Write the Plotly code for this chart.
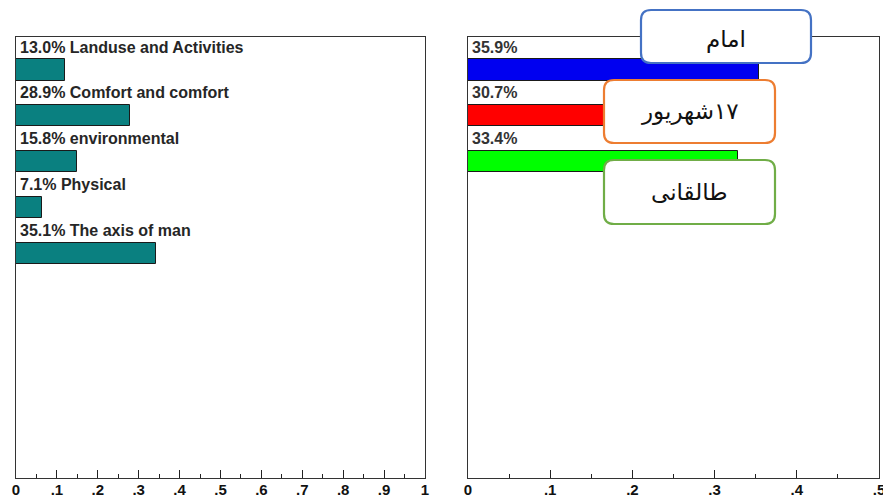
import plotly.graph_objects as go

W, H = 883, 497

# ---- data ----
left_names = ["Landuse and Activities", "Comfort and comfort", "environmental", "Physical", "The axis of man"]
left_pct = ["13.0%", "28.9%", "15.8%", "7.1%", "35.1%"]
left_vals = [0.120, 0.279, 0.149, 0.064, 0.342]

right_pct = ["35.9%", "30.7%", "33.4%"]
right_vals = [0.354, 0.302, 0.328]
right_colors = ["#0000f0", "#ff0000", "#00ff00"]
right_names = ["امام", "\u200f۱۷شهریور", "طالقانی"]
box_colors = ["#4472c4", "#ed7d31", "#70ad47"]

left_tickvals = [0, 0.1, 0.2, 0.3, 0.4, 0.5, 0.6, 0.7, 0.8, 0.9, 1.0]
left_ticktext = ["0", ".1", ".2", ".3", ".4", ".5", ".6", ".7", ".8", ".9", "1"]
right_tickvals = [0, 0.1, 0.2, 0.3, 0.4, 0.5]
right_ticktext = ["0", ".1", ".2", ".3", ".4", ".5"]

FONT = "Arial, Liberation Sans, DejaVu Sans, sans-serif"
TXT = "#262626"

fig = go.Figure()
fig.add_trace(go.Bar(
    x=left_vals, y=list(range(len(left_vals))), orientation="h", width=0.46,
    marker=dict(color="#0a8080", line=dict(color="#1a1a1a", width=1)),
    xaxis="x", yaxis="y", hoverinfo="skip", showlegend=False))
fig.add_trace(go.Bar(
    x=right_vals, y=list(range(len(right_vals))), orientation="h", width=0.46,
    marker=dict(color=right_colors, line=dict(color="#1a1a1a", width=1)),
    xaxis="x2", yaxis="y2", hoverinfo="skip", showlegend=False))

ann = []
for i, (p, n) in enumerate(zip(left_pct, left_names)):
    ann.append(dict(x=0, y=i - 0.5, xref="x", yref="y", text=f"{p} {n}", showarrow=False,
                    xanchor="left", yanchor="middle", xshift=2,
                    font=dict(family=FONT, size=16, color=TXT, weight="bold")))
for i, p in enumerate(right_pct):
    ann.append(dict(x=0, y=i - 0.5, xref="x2", yref="y2", text=p, showarrow=False,
                    xanchor="left", yanchor="middle", xshift=2,
                    font=dict(family=FONT, size=16, color="#333333", weight="bold")))

# callout boxes (pixel geometry)
boxes_px = [(641, 10, 811, 63), (604, 80, 775, 143), (604, 160, 775, 224)]
text_shift = [-3, 0, 0]
shapes = []
r = 10
for (x0, y0, x1, y1), col, name, ys in zip(boxes_px, box_colors, right_names, text_shift):
    def P(px, py):
        return f"{px / W:.5f},{1 - py / H:.5f}"
    path = (f"M {P(x0 + r, y0)} L {P(x1 - r, y0)} Q {P(x1, y0)} {P(x1, y0 + r)} "
            f"L {P(x1, y1 - r)} Q {P(x1, y1)} {P(x1 - r, y1)} "
            f"L {P(x0 + r, y1)} Q {P(x0, y1)} {P(x0, y1 - r)} "
            f"L {P(x0, y0 + r)} Q {P(x0, y0)} {P(x0 + r, y0)} Z")
    shapes.append(dict(type="path", xref="paper", yref="paper", path=path,
                       fillcolor="white", line=dict(color=col, width=2.2), layer="above"))
    ann.append(dict(x=(x0 + x1) / 2 / W, y=1 - (y0 + y1) / 2 / H, xref="paper", yref="paper",
                    text=name, showarrow=False, xanchor="center", yanchor="middle", yshift=ys,
                    font=dict(family="DejaVu Sans, Noto Sans, sans-serif", size=23, color="#111111")))

yrange = [8.891, -0.719]
ydom = [1 - 478 / H, 1 - 37 / H]

def xaxis_cfg(dom, rng, tv, tt, minor_vals):
    return dict(domain=dom, range=rng, tickmode="array", tickvals=tv, ticktext=tt,
                ticks="inside", ticklen=8, tickwidth=1.3, tickcolor="#222",
                minor=dict(tickmode="array", tickvals=minor_vals, ticks="inside", ticklen=4,
                           tickwidth=1.2, tickcolor="#222"),
                showline=True, linecolor="#333", linewidth=1.3, mirror=True,
                showgrid=False, zeroline=False, automargin=False, ticklabeloverflow="allow",
                ticklabelstandoff=-2,
                tickfont=dict(family=FONT, size=15, color="#111", weight="bold"))

def yaxis_cfg(anchor):
    return dict(domain=ydom, range=yrange, anchor=anchor, showticklabels=False, ticks="",
                showline=True, linecolor="#333", linewidth=1.3, mirror=True,
                showgrid=False, zeroline=False, automargin=False)

left_minor = [0.05, 0.15, 0.25, 0.35, 0.45, 0.55, 0.65, 0.75, 0.85, 0.95]
right_minor = [0.05, 0.15, 0.25, 0.35, 0.45]

fig.update_layout(
    width=W, height=H, margin=dict(l=0, r=0, t=0, b=0),
    paper_bgcolor="white", plot_bgcolor="white",
    xaxis=xaxis_cfg([16 / W, 425 / W], [0, 1], left_tickvals, left_ticktext, left_minor),
    xaxis2=xaxis_cfg([468 / W, 879 / W], [0, 0.5], right_tickvals, right_ticktext, right_minor),
    yaxis=yaxis_cfg("x"),
    yaxis2=yaxis_cfg("x2"),
    annotations=ann, shapes=shapes, bargap=0,
)
fig.update_layout(xaxis2_anchor="y2", xaxis_anchor="y")

fig.write_html("out.html", config={"displayModeBar": False},
               post_script="document.body.style.margin='0';document.body.style.overflow='hidden';")
